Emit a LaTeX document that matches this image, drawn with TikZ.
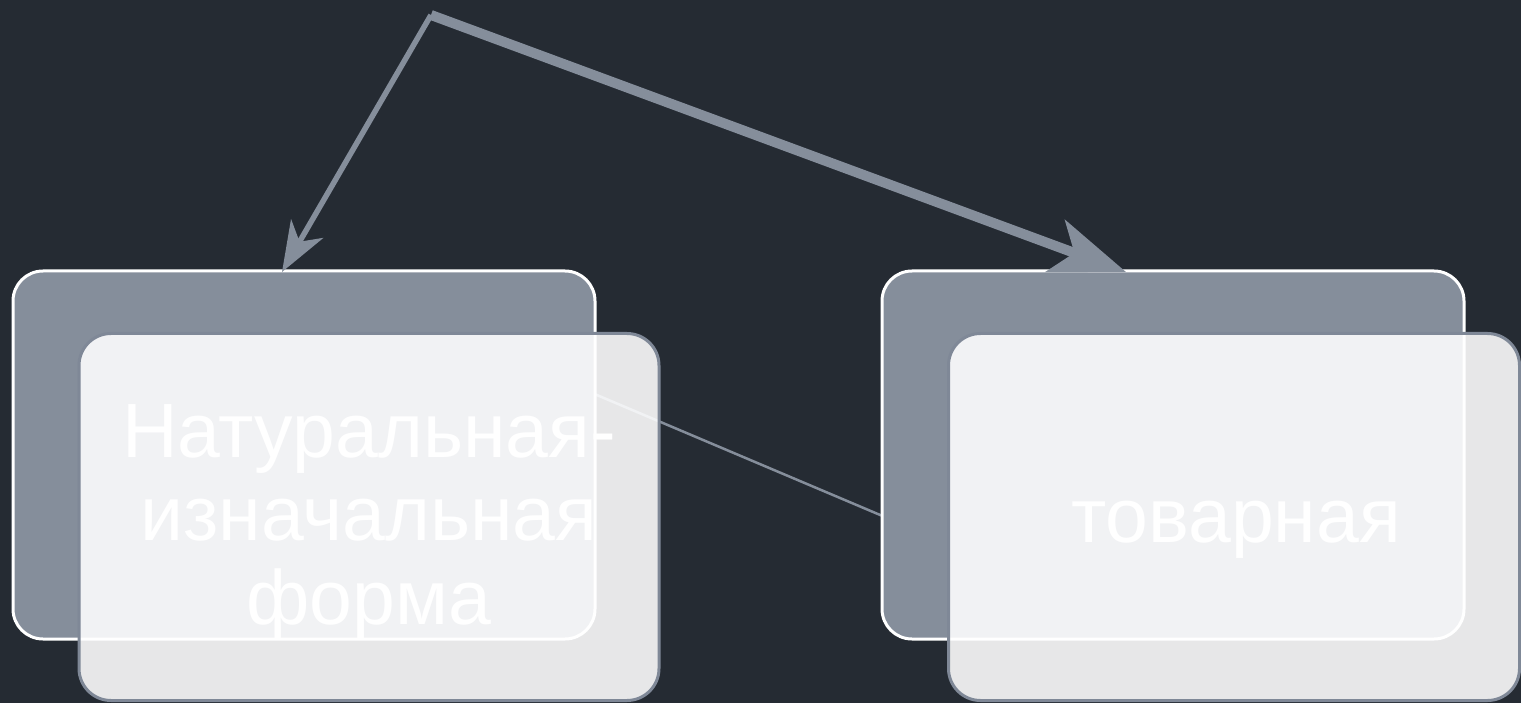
\documentclass[tikz,border=0pt]{standalone}
\usepackage{fontspec}
\setmainfont{Liberation Sans}
\usetikzlibrary{arrows.meta}
\definecolor{bgc}{RGB}{37,43,51}
\definecolor{slate}{RGB}{133,142,155}
\definecolor{edgegray}{RGB}{127,136,151}
\tikzset{
  backbox/.style={draw=white, line width=3pt, fill=slate, rounded corners=30pt,
    minimum width=582pt, minimum height=368pt, inner sep=0pt},
  frontbox/.style={draw=edgegray, line width=3pt, fill=white, fill opacity=0.89,
    rounded corners=32pt, minimum width=580pt, minimum height=367pt, inner sep=0pt},
  lbl/.style={text=white, font=\fontsize{77}{83.5}\selectfont, align=center, inner sep=0pt},
  thinlink/.style={draw=slate, line width=2.5pt},
  thinarrow/.style={draw=slate, line width=5.5pt, -{Stealth[length=50pt, width=37pt, inset=15pt]}},
  thickarrow/.style={draw=slate, line width=10pt, -{Stealth[length=75pt, width=55pt, inset=20pt]}}
}
\begin{document}
\begin{tikzpicture}[x=1pt,y=-1pt]
\fill[bgc] (0,0) rectangle (1521,703);
\useasboundingbox (0,0) rectangle (1521,703);
% connector hidden behind back boxes
\coordinate (lbtop) at (304,271);
\coordinate (rbbot) at (1173,639);
\draw[thinlink] (lbtop) -- (rbbot);
% back boxes
\node[backbox] (lb) at (304,455) {};
\node[backbox] (rb) at (1173,455) {};
% arrows
\coordinate (top) at (431,15);
\coordinate (la) at (282,272);
\coordinate (ra) at (1126,272);
\draw[thinarrow] (top) -- (la);
\draw[thickarrow] (top) -- (ra);
% front boxes
\node[frontbox] (lf) at (369,517) {};
\node[frontbox, minimum width=571pt] (rf) at (1234,517) {};
% labels
\node[lbl] (lt) at (369,522) {Натуральная-\\изначальная\\форма};
\node[lbl] (rt) at (1236,530) {товарная};
\end{tikzpicture}
\end{document}
